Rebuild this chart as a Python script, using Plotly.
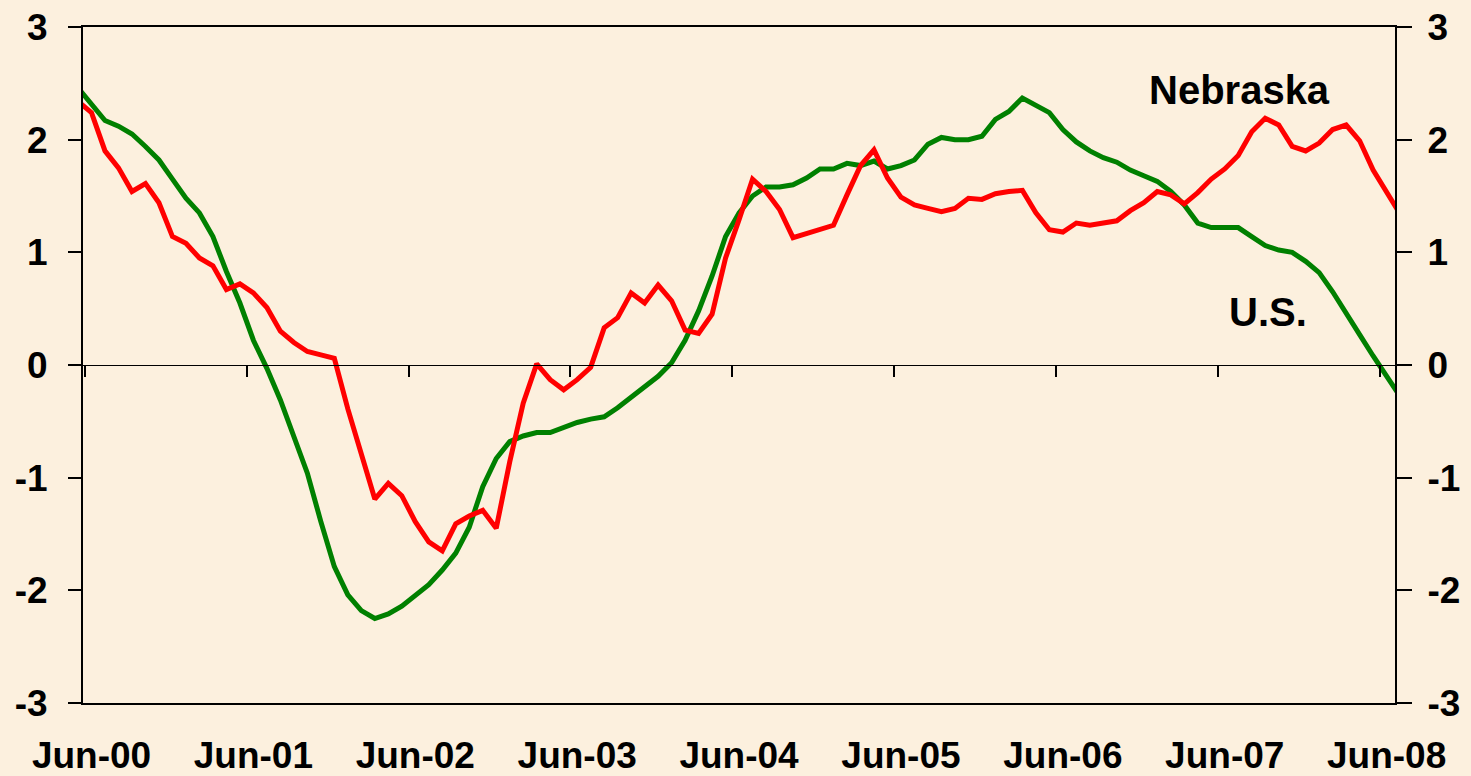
import plotly.graph_objects as go

# Monthly series, May-00 .. Jul-08 (one point per month, centred in each month)
nebraska = [2.34, 2.24, 1.90, 1.75, 1.54, 1.61, 1.44, 1.14, 1.08, 0.95, 0.88, 0.67, 0.72,
            0.64, 0.51, 0.30, 0.20, 0.12, 0.09, 0.06, -0.39, -0.81, -1.19, -1.05, -1.16,
            -1.39, -1.57, -1.65, -1.41, -1.34, -1.29, -1.45, -0.86, -0.34, 0.01, -0.13,
            -0.22, -0.13, -0.02, 0.33, 0.42, 0.64, 0.55, 0.71, 0.57, 0.31, 0.28, 0.45,
            0.95, 1.29, 1.65, 1.54, 1.38, 1.13, 1.17, 1.20, 1.24, 1.51, 1.77, 1.91, 1.66,
            1.49, 1.42, 1.39, 1.36, 1.39, 1.48, 1.47, 1.52, 1.54, 1.55, 1.35, 1.20, 1.18,
            1.26, 1.24, 1.26, 1.28, 1.37, 1.44, 1.54, 1.51, 1.43, 1.53, 1.65, 1.74, 1.86,
            2.07, 2.19, 2.13, 1.94, 1.90, 1.97, 2.09, 2.13, 1.99, 1.73, 1.53, 1.34]

us = [2.46, 2.31, 2.17, 2.12, 2.05, 1.94, 1.82, 1.65, 1.48, 1.35, 1.14, 0.83, 0.55,
      0.22, -0.03, -0.31, -0.62, -0.96, -1.39, -1.79, -2.04, -2.18, -2.25, -2.21, -2.14,
      -2.04, -1.95, -1.82, -1.67, -1.44, -1.08, -0.83, -0.68, -0.63, -0.60, -0.60,
      -0.55, -0.51, -0.48, -0.46, -0.38, -0.29, -0.19, -0.10, 0.02, 0.22, 0.48, 0.79,
      1.14, 1.35, 1.50, 1.58, 1.58, 1.60, 1.66, 1.74, 1.74, 1.79, 1.77, 1.81, 1.74,
      1.77, 1.82, 1.96, 2.02, 2.00, 2.00, 2.03, 2.18, 2.25, 2.37, 2.31, 2.24, 2.09,
      1.98, 1.90, 1.84, 1.80, 1.73, 1.68, 1.63, 1.54, 1.42, 1.26, 1.22, 1.22, 1.22,
      1.14, 1.06, 1.02, 1.00, 0.92, 0.82, 0.65, 0.45, 0.27, 0.08, -0.11, -0.28]

tick_labels = ["Jun-00", "Jun-01", "Jun-02", "Jun-03", "Jun-04",
               "Jun-05", "Jun-06", "Jun-07", "Jun-08"]
y_ticks = [-3, -2, -1, 0, 1, 2, 3]
y_tick_text = ["-3", "-2", "-1", "0", "1", "2", "3"]

# month index: 0 = Jun-00 boundary; each point sits mid-month
months = [i - 0.5 for i in range(len(nebraska))]
year_marks = [12 * i for i in range(len(tick_labels))]

BG = "#FCF0DE"
FONT = "Liberation Sans"
XR = [-0.13, 97.12]

fig = go.Figure()
fig.add_trace(go.Scatter(x=months, y=us, mode="lines", name="U.S.",
                         line=dict(color="#008000", width=5), showlegend=False))
fig.add_trace(go.Scatter(x=months, y=nebraska, mode="lines", name="Nebraska",
                         line=dict(color="#FF0000", width=5), showlegend=False))
# helper trace to create the zero-line axis subplot
fig.add_trace(go.Scatter(x=[None], y=[None], xaxis="x2", yaxis="y",
                         showlegend=False, hoverinfo="skip"))
# helper trace for right axis
fig.add_trace(go.Scatter(x=[None], y=[None], xaxis="x", yaxis="y2",
                         showlegend=False, hoverinfo="skip"))

tickfont = dict(family=FONT, size=37, color="black", weight="bold")

fig.update_layout(
    width=1471, height=776,
    margin=dict(l=83, r=76, t=27, b=73, autoexpand=False),
    paper_bgcolor=BG, plot_bgcolor=BG,
    font=dict(family=FONT, color="black"),
    xaxis=dict(range=XR, tickmode="array",
               tickvals=[v + 0.5 for v in year_marks], ticktext=tick_labels,
               ticks="", showline=True, mirror=True, linecolor="black", linewidth=2,
               showgrid=False, zeroline=False, tickfont=tickfont,
               ticklabelstandoff=19, automargin=False, fixedrange=True),
    xaxis2=dict(range=XR, overlaying="x", anchor="free", position=0.5, side="bottom",
                tickmode="array", tickvals=year_marks, showticklabels=False,
                ticks="outside", ticklen=11, tickwidth=1.5, tickcolor="black",
                showline=True, linecolor="black", linewidth=1.3,
                showgrid=False, zeroline=False, automargin=False),
    yaxis=dict(range=[-3, 3], tickmode="array", tickvals=y_ticks, ticktext=y_tick_text,
               ticks="outside", ticklen=13, tickwidth=1.5, tickcolor="black",
               showline=True, linecolor="black", linewidth=2,
               showgrid=False, zeroline=False, tickfont=tickfont,
               ticklabelstandoff=13, automargin=False),
    yaxis2=dict(range=[-3, 3], overlaying="y", side="right", tickmode="array",
                tickvals=y_ticks, ticktext=y_tick_text, ticks="outside", ticklen=15,
                tickwidth=1.5, tickcolor="black", showline=True, linecolor="black",
                linewidth=2, showgrid=False, zeroline=False, tickfont=tickfont,
                ticklabelstandoff=8, automargin=False),
    annotations=[
        dict(x=85.56, y=2.44, xref="x", yref="y", text="<b>Nebraska</b>",
             showarrow=False, font=dict(family=FONT, size=40, color="black")),
        dict(x=87.67, y=0.47, xref="x", yref="y", text="<b>U.S.</b>",
             showarrow=False, font=dict(family=FONT, size=40, color="black")),
    ],
)

fig.write_html(
    "out.html",
    config={"displayModeBar": False},
    post_script=("document.body.style.margin='0';"
                 "document.body.style.background='" + BG + "';"
                 "document.body.style.overflow='hidden';"),
)
